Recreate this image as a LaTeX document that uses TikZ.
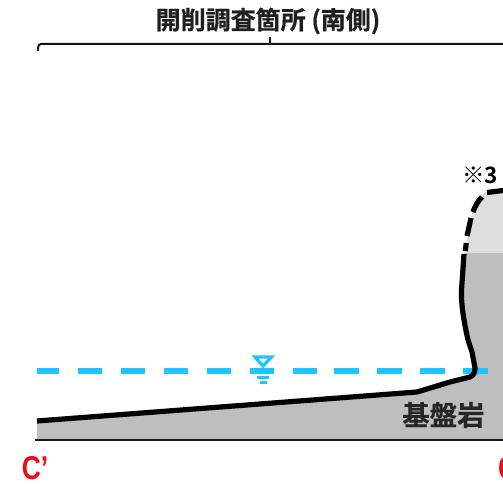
\documentclass[tikz,border=0pt]{standalone}
\usepackage{fontspec}
\setmainfont{Liberation Sans}
\newfontfamily\cjk{Noto Sans CJK JP Bold}
\newfontfamily\cjkheavy[FakeBold=0.6]{Noto Sans CJK JP Bold}
\definecolor{darkrock}{HTML}{BEBEBE}
\definecolor{lightrock}{HTML}{DEDEDE}
\definecolor{water}{HTML}{1FC4FF}
\definecolor{redlabel}{HTML}{F00A14}
\tikzset{
  every node/.style={inner sep=0pt,outer sep=0pt},
  profile/.style={draw=black,line width=5.2pt,line join=round},
  wline/.style={draw=water,line width=6pt},
  wthin/.style={draw=water,line width=3pt},
  ttl/.style={font=\cjkheavy\fontsize{25}{25}\selectfont,text=black!88},
  cut/.style={font=\fontsize{33}{33}\selectfont\bfseries,text=redlabel,xscale=.8}
}
\begin{document}
\begin{tikzpicture}[x=1pt,y=-1pt]
\useasboundingbox (0,0) rectangle (503,484);
\clip (0,0) rectangle (503,484);
% fills
\fill[lightrock] (503,190) -- (487,192) .. controls (477,196) and (470,212) .. (465,253) -- (503,253) -- cycle;
\fill[darkrock] (37,421) -- (417,392) -- (450,382) -- (470,377) -- (475,368) -- (468,340) -- (462,295) -- (464,253) -- (503,253) -- (503,440) -- (37,440) -- cycle;
% base
\coordinate (b1) at (35,440); \coordinate (b2) at (503,440);
\draw[line width=2pt,black!90] (b1) -- (b2);
% water dashes
\foreach \a/\b in {37/59,78/102,121/145,164/188,207/231,250/274,293/317,334/359,377/402,420/445,463/488}
  \draw[wline] (\a,371) -- (\b,371);
% profile
\draw[profile] (37,421) -- (417,392) -- (450,382) -- (470,377) .. controls (474,375) and (475,372) .. (475,368)
  -- (472,352) -- (468,340) .. controls (464,322) and (461,305) .. (461.5,290) -- (464,254);
\draw[profile] (465.2,251) -- (466.3,243);
\draw[profile] (467,236) -- (471,218);
\draw[profile] (473,212) .. controls (475,206) and (478,201) .. (482,197);
\draw[profile] (487,192.5) -- (503,190.5);
% water level mark
\draw[water,line width=3.2pt,line join=miter] (255,357) -- (271.5,357) -- (263,366) -- cycle;
\draw[wthin] (257,377.5) -- (269,377.5);
\draw[wthin] (260,382.5) -- (267,382.5);
% bracket
\coordinate (k1) at (38,51); \coordinate (k2) at (503,44); \coordinate (k3) at (270,37); \coordinate (k4) at (270,44);
\draw[line width=2pt,black!92] (k1) -- (38,48) .. controls (38,45.5) and (39,44) .. (41,44) -- (k2);
\draw[line width=2pt,black!92] (k3) -- (k4);
% texts
\node[ttl,anchor=center] (title) at (268,21) {開削調査箇所 (南側)};
\node[font=\cjk\fontsize{22.5}{22.5}\selectfont,text=black,anchor=center] (note) at (480,175) {※3};
\node[font=\cjkheavy\fontsize{27.5}{27.5}\selectfont,text=black!85,anchor=center] (rock) at (443.5,415) {基盤岩};
\node[cut,anchor=center] (cl) at (35,468) {C’};
\node[cut,anchor=west] (cr) at (498,468) {C};
\end{tikzpicture}
\end{document}
